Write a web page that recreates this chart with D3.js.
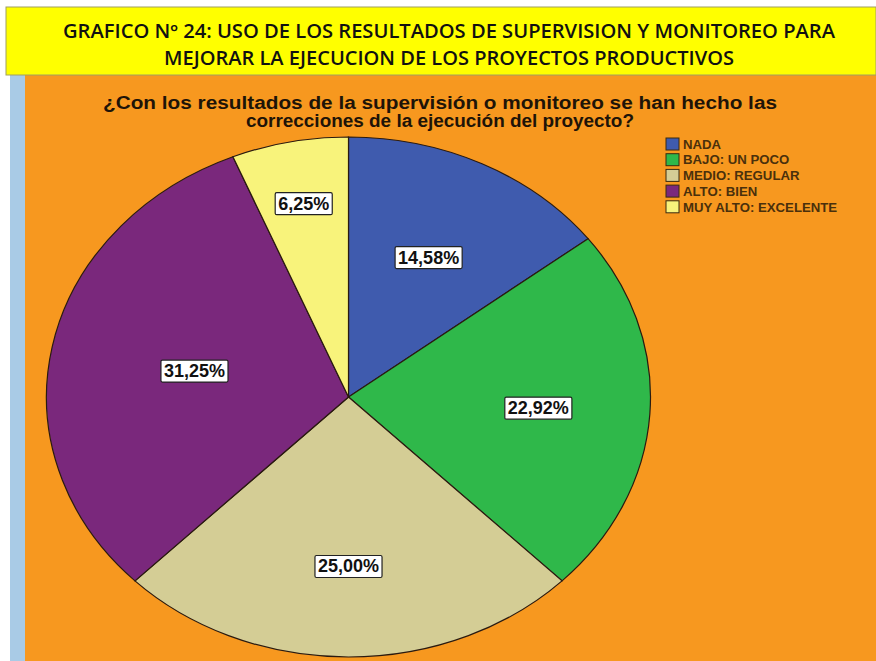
<!DOCTYPE html>
<html>
<head>
<meta charset="utf-8">
<script src="https://cdn.jsdelivr.net/npm/d3@7"></script>
<style>
  html, body { margin: 0; padding: 0; background: #fff; }
  svg { display: block; }
</style>
</head>
<body>
<div id="chart"></div>
<script>
// data
const categories = ['NADA', 'BAJO: UN POCO', 'MEDIO: REGULAR', 'ALTO: BIEN', 'MUY ALTO: EXCELENTE'];
const values = [14.58, 22.92, 25.00, 31.25, 6.25];
const colors = ['#3f5bae', '#2fb84a', '#d4cd95', '#7a287c', '#f8f37b'];
const titleLines = ['GRAFICO Nº 24: USO DE LOS RESULTADOS DE SUPERVISION Y MONITOREO PARA',
  'MEJORAR LA EJECUCION DE LOS PROYECTOS PRODUCTIVOS'];
const subtitleLines = ['¿Con los resultados de la supervisión o monitoreo se han hecho las',
  'correcciones de la ejecución del proyecto?'];

// layout
const W = 876, H = 661;
const cx = 348.5, cy = 397, rx = 302, ry = 260;
const labelPos = [0.6, 0.63, 0.65, 0.52, 0.76]; // fraccion del radio para cada etiqueta

const svg = d3.select('#chart').append('svg')
  .attr('width', W).attr('height', H)
  .attr('viewBox', `0 0 ${W} ${H}`);

// fondo
svg.append('rect').attr('x', 0).attr('y', 0).attr('width', W).attr('height', H).attr('fill', '#fff');
svg.append('rect').attr('x', 10).attr('y', 75).attr('width', 16).attr('height', H - 75).attr('fill', '#a9cbe6');
svg.append('rect').attr('x', 25).attr('y', 75).attr('width', W - 25).attr('height', H - 75).attr('fill', '#f7981f');

// titulo
svg.append('rect').attr('x', 6).attr('y', 7).attr('width', W - 6).attr('height', 68)
  .attr('fill', '#ffff00').attr('stroke', '#a0a060').attr('stroke-width', 1);
svg.append('g').selectAll('text')
  .data(titleLines)
  .enter().append('text')
  .attr('x', 449)
  .attr('y', (d, i) => 38 + i * 27)
  .attr('text-anchor', 'middle')
  .attr('font-family', '"Open Sans", sans-serif')
  .attr('font-weight', 600)
  .attr('font-size', 19)
  .attr('fill', '#111')
  .attr('textLength', (d, i) => i === 0 ? 772 : 570)
  .attr('lengthAdjust', 'spacingAndGlyphs')
  .text(d => d);

// subtitulo
svg.append('g').selectAll('text')
  .data(subtitleLines)
  .enter().append('text')
  .attr('x', 440)
  .attr('y', (d, i) => 109 + i * 18)
  .attr('text-anchor', 'middle')
  .attr('font-family', '"Liberation Sans", Arial, sans-serif')
  .attr('font-weight', 'bold')
  .attr('font-size', 17.5)
  .attr('fill', '#1e1408')
  .attr('textLength', (d, i) => i === 0 ? 674 : 388)
  .attr('lengthAdjust', 'spacingAndGlyphs')
  .text(d => d);

// pastel
const pie = d3.pie().sort(null).value(d => d);
const arcs = pie(values);
const arc = d3.arc().innerRadius(0).outerRadius(ry);

const pieG = svg.append('g')
  .attr('transform', `translate(${cx},${cy}) scale(${rx / ry},1)`);

pieG.selectAll('path')
  .data(arcs)
  .enter().append('path')
  .attr('d', arc)
  .attr('fill', (d, i) => colors[i])
  .attr('stroke', '#2a1a10')
  .attr('stroke-width', 1.2)
  .attr('vector-effect', 'non-scaling-stroke');

// etiquetas
const fmt = v => v.toFixed(2).replace('.', ',') + '%';
const labelG = svg.append('g').selectAll('g')
  .data(arcs)
  .enter().append('g')
  .attr('transform', (d, i) => {
    const a = (d.startAngle + d.endAngle) / 2;
    const x = cx + Math.sin(a) * rx * labelPos[i];
    const y = cy - Math.cos(a) * ry * labelPos[i];
    return `translate(${x},${y})`;
  });

labelG.append('text')
  .attr('text-anchor', 'middle')
  .attr('dy', '0.36em')
  .attr('font-family', '"Liberation Sans", Arial, sans-serif')
  .attr('font-weight', 'bold')
  .attr('font-size', 18)
  .attr('fill', '#111')
  .text(d => fmt(d.data));

labelG.each(function() {
  const g = d3.select(this);
  const bb = g.select('text').node().getBBox();
  g.insert('rect', 'text')
    .attr('x', bb.x - 3).attr('y', bb.y - 1)
    .attr('width', bb.width + 6).attr('height', bb.height + 2)
    .attr('fill', '#fff')
    .attr('stroke', '#222')
    .attr('stroke-width', 1.2)
    .attr('rx', 1.5);
});

// leyenda
const legend = svg.append('g').attr('transform', 'translate(666,138)');
const rows = legend.selectAll('g')
  .data(categories)
  .enter().append('g')
  .attr('transform', (d, i) => `translate(0,${i * 15.7})`);

rows.append('rect')
  .attr('width', 13).attr('height', 12)
  .attr('fill', (d, i) => colors[i])
  .attr('stroke', '#3a2a10')
  .attr('stroke-width', 1);

rows.append('text')
  .attr('x', 17).attr('y', 6).attr('dy', '0.36em')
  .attr('font-family', '"Liberation Sans", Arial, sans-serif')
  .attr('font-size', 13.2)
  .attr('font-weight', 'bold')
  .attr('fill', '#4a300c')
  .text(d => d);
</script>
</body>
</html>
